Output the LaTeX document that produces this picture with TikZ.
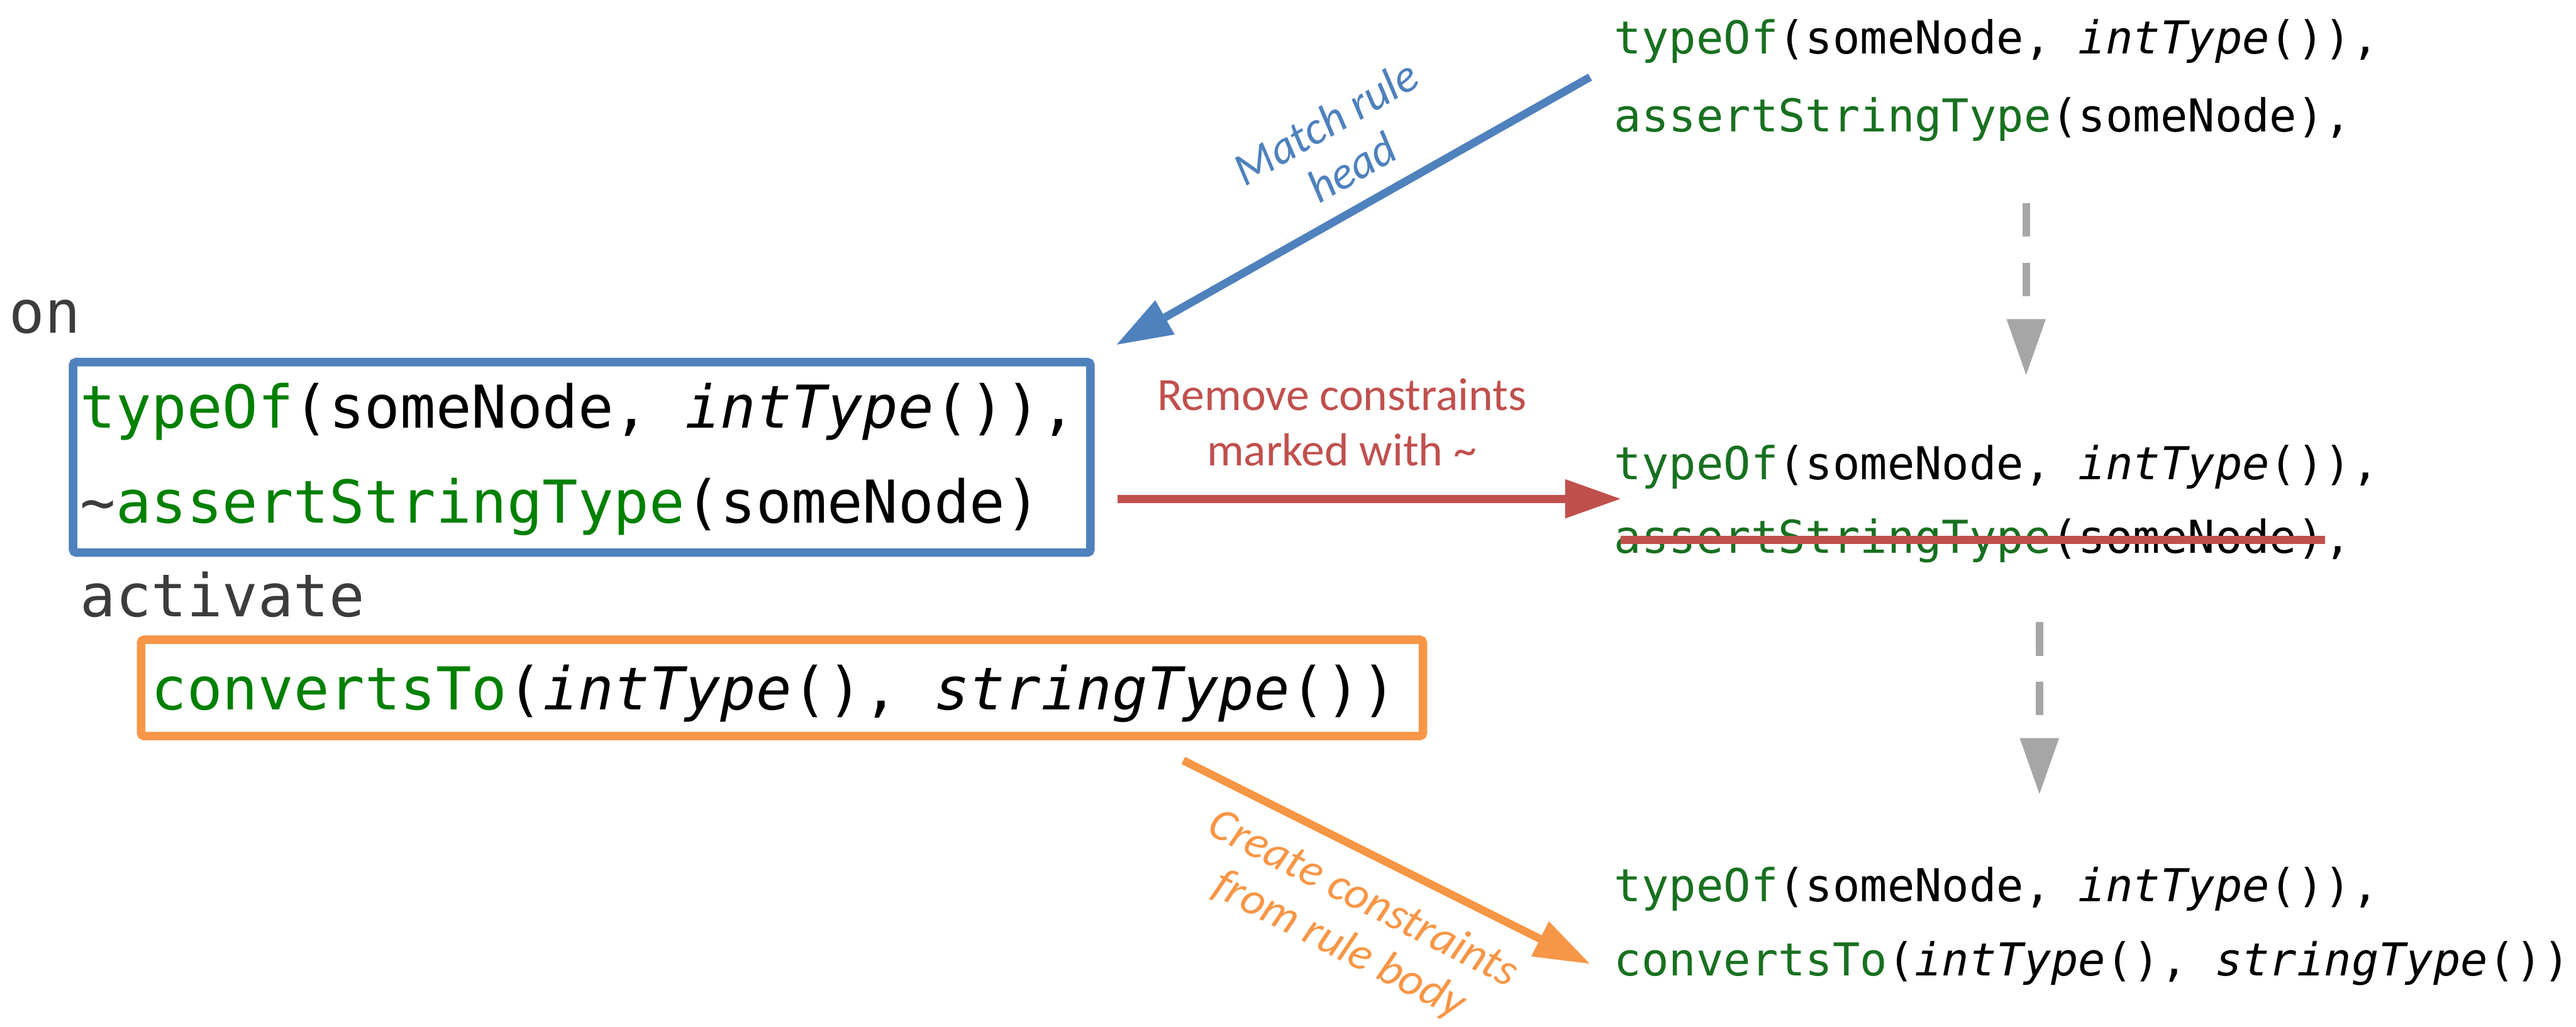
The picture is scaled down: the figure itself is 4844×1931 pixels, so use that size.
\documentclass[tikz,border=0pt]{standalone}
\usepackage{fontspec}
\usetikzlibrary{arrows.meta}
\newfontfamily\codefont{DejaVu Sans Mono}
\newfontfamily\lblfont{Carlito}
\definecolor{fgreen}{RGB}{0,128,0}
\definecolor{sgreen}{RGB}{24,112,32}
\definecolor{kwgray}{RGB}{60,60,60}
\definecolor{cblue}{RGB}{79,129,189}
\definecolor{cred}{RGB}{192,80,77}
\definecolor{corange}{RGB}{247,150,70}
\definecolor{cgray}{RGB}{166,166,166}
\begin{document}
\begin{tikzpicture}[x=0.01cm, y=-0.01cm,
  leftcode/.style={font=\codefont\fontsize{31.6pt}{38pt}\selectfont, inner sep=0pt, anchor=base west, text=black},
  rightcode/.style={font=\codefont\fontsize{24.25pt}{30pt}\selectfont, inner sep=0pt, anchor=base west, text=black},
  codebox/.style={draw, line width=0.16cm, rounded corners=0.06cm, inner sep=0pt},
  lbl/.style={font=\lblfont\fontsize{24.75pt}{29.6pt}\selectfont, align=center, inner sep=0pt},
  lbli/.style={font=\lblfont\itshape\fontsize{24.75pt}{27.9pt}\selectfont, align=center, inner sep=0pt},
  conn/.style={line width=0.15cm, -{Triangle[length=1.04cm, width=0.74cm, line width=0pt]}},
  flow/.style={draw=cgray, line width=0.14cm, dash pattern=on 0.63cm off 0.49cm, -{Triangle[length=1.05cm, width=0.74cm, line width=0pt]}}
]
\useasboundingbox[fill=white] (0,0) rectangle (4844,1931);

% boxes
\node[codebox, draw=cblue, minimum width=19.12cm, minimum height=3.58cm] (headbox) at (1094,860) {};
\node[codebox, draw=corange, minimum width=24.09cm, minimum height=1.81cm] (bodybox) at (1470.5,1293.5) {};

% left rule text
\node[leftcode, text=kwgray] (on) at (17,626) {on};
\node[leftcode] (lhs1) at (150,805) {\textcolor{fgreen}{typeOf}(someNode, \textit{intType}()),};
\node[leftcode] (lhs2) at (150,983) {\textcolor{kwgray}{\textasciitilde}\textcolor{fgreen}{assertStringType}(someNode)};
\node[leftcode, text=kwgray] (act) at (150,1159) {activate};
\node[leftcode] (rhs) at (284,1335) {\textcolor{fgreen}{convertsTo}(\textit{intType}(), \textit{stringType}())};

% right constraint stores
\node[rightcode] (s1a) at (3035,101) {\textcolor{sgreen}{typeOf}(someNode, \textit{intType}()),};
\node[rightcode] (s1b) at (3035,248) {\textcolor{sgreen}{assertStringType}(someNode),};
\node[rightcode] (s2a) at (3035,902) {\textcolor{sgreen}{typeOf}(someNode, \textit{intType}()),};
\node[rightcode] (s2b) at (3035,1040) {\textcolor{sgreen}{assertStringType}(someNode),};
\node[rightcode] (s3a) at (3035,1695) {\textcolor{sgreen}{typeOf}(someNode, \textit{intType}()),};
\node[rightcode] (s3b) at (3035,1835) {\textcolor{sgreen}{convertsTo}(\textit{intType}(), \textit{stringType}())};

% strike-through
\coordinate (ks1) at (3048,1015);
\coordinate (ks2) at (4372,1015);
\draw[cred, line width=0.15cm] (ks1) -- (ks2);

% connector end points
\coordinate (mstart) at (2990,145);
\coordinate (mtip) at (2100,648);
\coordinate (rstart) at (2101,938);
\coordinate (rtip) at (3047,938);
\coordinate (cstart) at (2225,1430);
\coordinate (ctip) at (2989,1812);
\coordinate (g1s) at (3810,382);
\coordinate (g1e) at (3810,705);
\coordinate (g2s) at (3835,1170);
\coordinate (g2e) at (3835,1493);

% connectors
\draw[conn, cblue] (mstart) -- (mtip);
\draw[conn, cred] (rstart) -- (rtip);
\draw[conn, corange] (cstart) -- (ctip);
\draw[flow] (g1s) -- (g1e);
\draw[flow] (g2s) -- (g2e);

% labels
\node[lbli, text=cblue, rotate=30] (mlbl) at (2517,272) {Match rule\\head};
\node[lbl, text=cred] (rlbl) at (2523,794) {Remove constraints\\marked with \textasciitilde};
\node[lbli, text=corange, rotate=-27] (clbl) at (2540,1735) {Create constraints\\from rule body};
\end{tikzpicture}
\end{document}
